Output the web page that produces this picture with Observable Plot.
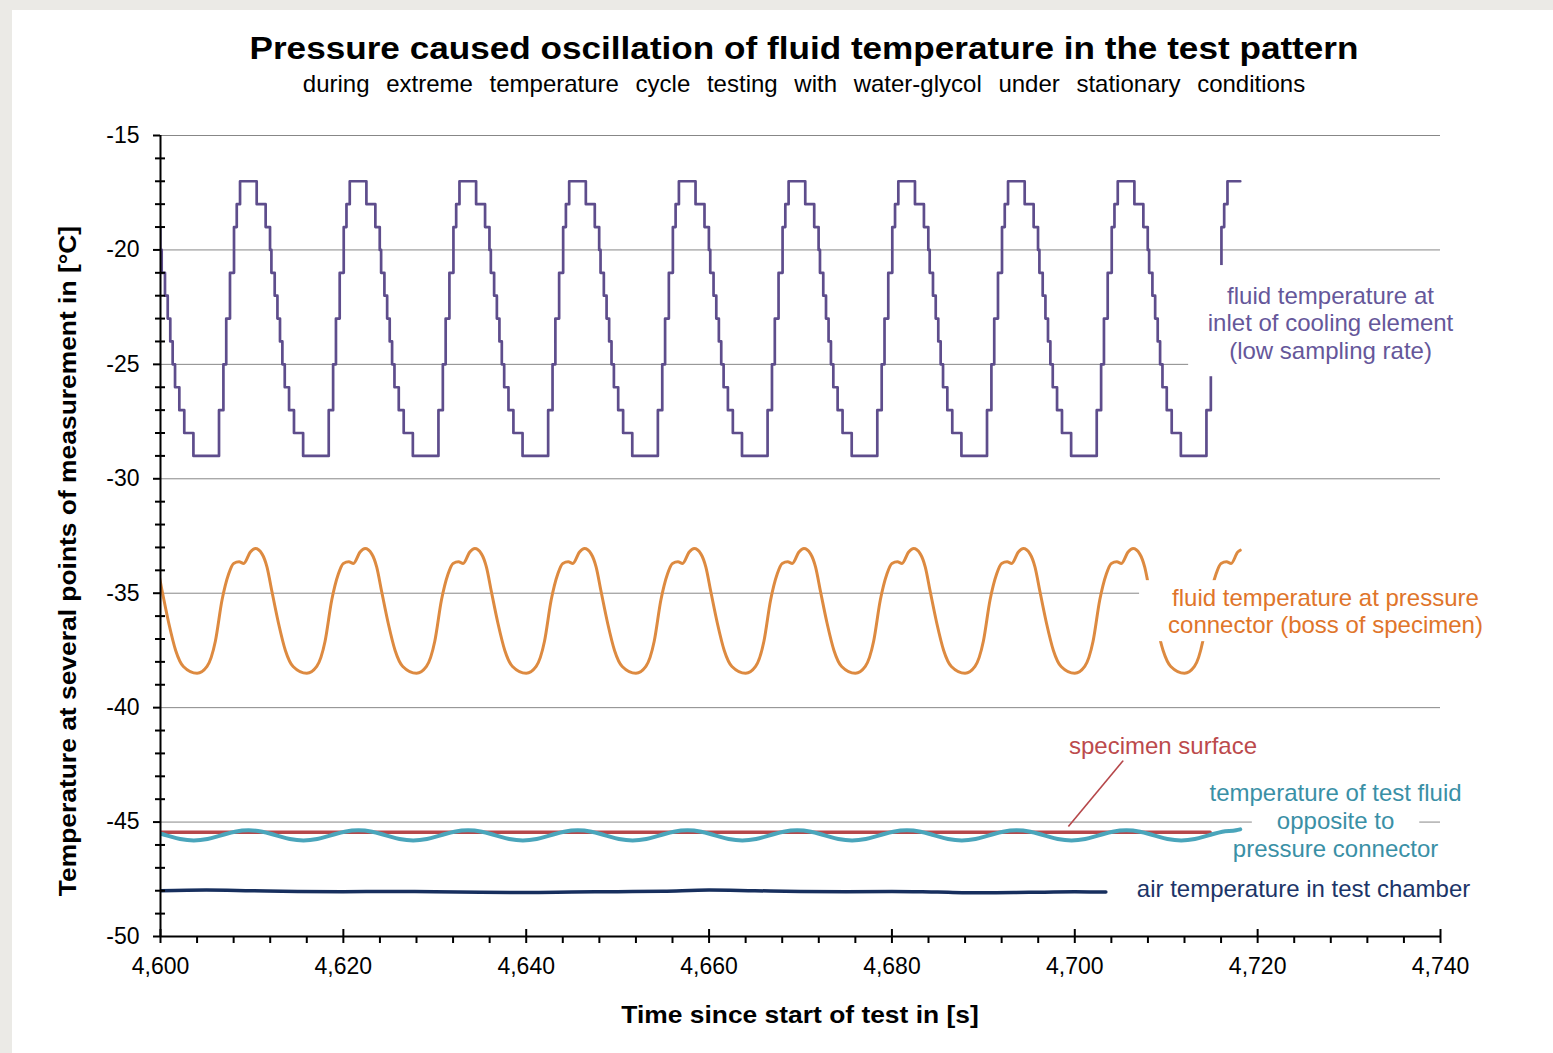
<!DOCTYPE html>
<html><head><meta charset="utf-8">
<script src="https://cdn.jsdelivr.net/npm/d3@7"></script>
<script src="https://cdn.jsdelivr.net/npm/@observablehq/plot@0.6"></script>
<style>
html,body{margin:0;padding:0;background:#ebeae6;}
body{width:1553px;height:1053px;position:relative;overflow:hidden;font-family:"Liberation Sans",Arial,sans-serif;}
#panel{position:absolute;left:12px;top:10px;right:0;bottom:0;background:#fff;}
#chart{position:absolute;left:12px;top:100px;}
.t{position:absolute;white-space:nowrap;color:#000;}
#title{left:804px;top:31px;transform:translateX(-50%) scaleX(1.098);font-size:32px;font-weight:bold;line-height:34px;}
#subtitle{left:804px;top:71px;transform:translateX(-50%);font-size:24px;line-height:26px;word-spacing:10px;}
#xtitle{left:800px;top:1002px;transform:translateX(-50%) scaleX(1.1);font-size:24px;font-weight:bold;line-height:26px;}
#ytitle{left:68px;top:561px;transform:translate(-50%,-50%) rotate(-90deg) scaleX(1.1);font-size:24px;font-weight:bold;line-height:26px;}
</style></head>
<body>
<div id="panel"></div>
<div id="chart"></div>
<div class="t" id="title">Pressure caused oscillation of fluid temperature in the test pattern</div>
<div class="t" id="subtitle">during extreme temperature cycle testing with water-glycol under stationary conditions</div>
<div class="t" id="xtitle">Time since start of test in [s]</div>
<div class="t" id="ytitle">Temperature at several points of measurement in [°C]</div>
<script>
// ---- axis ticks ----
const xMajor = [4600, 4620, 4640, 4660, 4680, 4700, 4720, 4740];
const xMinor = d3.range(4600, 4741, 4).filter(d => !xMajor.includes(d));
const yMajor = [-50, -45, -40, -35, -30, -25, -20, -15];
const yMinor = d3.range(-50, -14, 1).filter(d => !yMajor.includes(d));

// ---- fluid temperature at inlet of cooling element (quantized, step) ----
const inletCycleStart = [4591.6, 4603.6, 4615.6, 4627.6, 4639.6, 4651.6, 4663.6, 4675.6, 4687.6, 4699.6, 4711.6];
const inletStepOffset = [0, 2.8, 3.28, 3.59, 4.0, 4.44, 4.74, 5.1, 6.92, 7.9, 8.38, 8.53, 8.89, 9.19, 9.47, 9.73, 9.99, 10.46, 11.0];
const inletStepLevel  = [-29, -27, -25, -23, -21, -19, -18, -17, -18, -19, -20, -21, -22, -23, -24, -25, -26, -27, -28];
const inletEnd = [4718.1, -17];

// ---- fluid temperature at pressure connector ----
const connCycleMin = [4592, 4604, 4616, 4628, 4640, 4652, 4664, 4676, 4688, 4700, 4712];
const connOffset = [0, 1.09, 2.0, 2.73, 3.46, 4.0, 4.6, 5.1, 5.83, 6.38, 7.1, 7.65, 8.2, 8.9, 9.66, 10.5];
const connTemp   = [-38.5, -38.2, -37.1, -35.3, -34.15, -33.7, -33.63, -33.7, -33.2, -33.05, -33.28, -33.86, -34.95, -36.3, -37.5, -38.2];
const connEnd = [4718.1, -33.12];

// ---- temperature of test fluid opposite to pressure connector ----
const oppCycleMin = [4591.64, 4603.64, 4615.64, 4627.64, 4639.64, 4651.64, 4663.64, 4675.64, 4687.64, 4699.64, 4711.64];
const oppOffset = [0, 1.5, 3, 4.5, 6, 7.5, 9, 10.5];
const oppTemp   = [-45.80, -45.74, -45.58, -45.42, -45.36, -45.42, -45.58, -45.74];
const oppEnd = [4718.1, -45.32];

// ---- specimen surface ----
const surfTime = [4600, 4620, 4640, 4660, 4680, 4700, 4714.8];
const surfTemp = [-45.44, -45.44, -45.44, -45.44, -45.44, -45.44, -45.44];

// ---- air temperature in test chamber ----
const airTime = [4600, 4605, 4610, 4615, 4620, 4625, 4630, 4635, 4640, 4645, 4650, 4655, 4660, 4665, 4670, 4675, 4680, 4685, 4690, 4695, 4700, 4703.4];
const airTemp = [-48.00, -47.97, -48.00, -48.03, -48.04, -48.03, -48.04, -48.07, -48.08, -48.06, -48.04, -48.02, -47.97, -48.00, -48.03, -48.04, -48.03, -48.06, -48.09, -48.07, -48.05, -48.06];

// ---- labels ----
const labelLines = ["fluid temperature at", "inlet of cooling element", "(low sampling rate)",
  "fluid temperature at pressure", "connector (boss of specimen)",
  "specimen surface",
  "temperature of test fluid", "opposite to", "pressure connector",
  "air temperature in test chamber"];
const labelT = [4727.97, 4727.97, 4727.97, 4727.42, 4727.42, 4709.65, 4728.52, 4728.52, 4728.52, 4725.02];
const labelV = [-22.03, -23.21, -24.44, -35.23, -36.41, -41.70, -43.75, -44.98, -46.20, -47.95];
const labelSeries = ["inlet","inlet","inlet","conn","conn","surf","opp","opp","opp","air"];
const leaderT = [4699.3, 4705.3];
const leaderV = [-45.19, -42.31];

// ---- styles ----
const lineColor = {inlet: "#5e4d8c", conn: "#dd8a40", surf: "#b6474a", opp: "#4aa5bb", air: "#172f5e"};
const textColor = {inlet: "#65579a", conn: "#e0752a", surf: "#bc4a4c", opp: "#3a90a6", air: "#1c3568"};
// white box padding per label line: [horizontal, top, bottom]
const labelPad = [[41, 17, 4], [41, 4, 4], [41, 4, 12], [33, 4, 4], [33, 4, 3], [10, 1, 1], [10, 4, 2], [25, 2, 2], [5, 0, 4], [10, 3, 3]];

// ---- build tables ----
function cycles(starts, offs, vals, end) {
  const out = [];
  for (const s of starts) offs.forEach((o, i) => { if (s + o <= end[0]) out.push({t: s + o, v: vals[i]}); });
  out.push({t: end[0], v: end[1]});
  return out;
}
const inlet = cycles(inletCycleStart, inletStepOffset, inletStepLevel, inletEnd);
const conn = cycles(connCycleMin, connOffset, connTemp, connEnd);
const opp = cycles(oppCycleMin, oppOffset, oppTemp, oppEnd);
const surf = surfTime.map((t, i) => ({t, v: surfTemp[i]}));
const air = airTime.map((t, i) => ({t, v: airTemp[i]}));
const labels = labelLines.map((s, i) => ({s, t: labelT[i], v: labelV[i], k: labelSeries[i]}));

const plot = Plot.plot({
  width: 1541, height: 953,
  marginLeft: 148, marginRight: 113, marginTop: 35, marginBottom: 117,
  style: {background: "transparent", fontFamily: "Liberation Sans, Arial, sans-serif", fontSize: "23px", color: "#000", overflow: "visible"},
  x: {domain: [4600, 4740], axis: null},
  y: {domain: [-50, -15], axis: null},
  marks: [
    Plot.ruleY(yMajor.filter(d => d > -50), {stroke: "#878787", strokeWidth: 1}),
    Plot.line(inlet, {x: "t", y: "v", curve: "step-after", stroke: lineColor.inlet, strokeWidth: 2.7, clip: true}),
    Plot.line(conn, {x: "t", y: "v", curve: "monotone-x", stroke: lineColor.conn, strokeWidth: 3, clip: true}),
    Plot.line(surf, {x: "t", y: "v", stroke: lineColor.surf, strokeWidth: 3.5, clip: true}),
    Plot.line(opp, {x: "t", y: "v", curve: "monotone-x", stroke: lineColor.opp, strokeWidth: 4, clip: true}),
    Plot.line(air, {x: "t", y: "v", curve: "monotone-x", stroke: lineColor.air, strokeWidth: 3.5, clip: true}),
    Plot.link([0], {x1: () => leaderT[0], y1: () => leaderV[0], x2: () => leaderT[1], y2: () => leaderV[1], stroke: lineColor.surf, strokeWidth: 1.6}),
    Plot.text(labels, {x: "t", y: "v", text: "s", fill: d => textColor[d.k], fontSize: 24, textAnchor: "middle"}),
    Plot.ruleX([4600], {stroke: "#000", strokeWidth: 2}),
    Plot.ruleY([-50], {stroke: "#000", strokeWidth: 2}),
    Plot.axisY(yMajor, {tickSize: 7, tickPadding: 14, tickFormat: d => String(d), stroke: "#000", strokeWidth: 2, fill: "#000", label: null}),
    Plot.axisY(yMinor, {tickSize: 10, dx: 5, tickFormat: () => "", stroke: "#000", strokeWidth: 2, label: null}),
    Plot.axisX(xMinor, {tickSize: 7, tickFormat: () => "", stroke: "#000", strokeWidth: 2, label: null}),
    Plot.axisX(xMajor, {tickSize: 14, dy: -7, tickFormat: () => "", stroke: "#000", strokeWidth: 2, label: null}),
    Plot.axisX(xMajor, {tickSize: 0, tickPadding: 21, tickFormat: d3.format(","), fill: "#000", label: null})
  ]
});
document.getElementById("chart").append(plot);

// white boxes behind the label lines (like the original text boxes)
const svg = plot.tagName.toLowerCase() === "svg" ? plot : plot.querySelector("svg");
const sRect = svg.getBoundingClientRect();
const textGroup = svg.querySelector('g[aria-label="text"]');
const ns = "http://www.w3.org/2000/svg";
const bg = document.createElementNS(ns, "g");
textGroup.querySelectorAll("text").forEach((el, i) => {
  const r = el.getBoundingClientRect();
  const p = labelPad[i];
  const rect = document.createElementNS(ns, "rect");
  rect.setAttribute("x", r.left - sRect.left - p[0]);
  rect.setAttribute("y", r.top - sRect.top - p[1]);
  rect.setAttribute("width", r.width + 2 * p[0]);
  rect.setAttribute("height", r.height + p[1] + p[2]);
  rect.setAttribute("fill", "white");
  bg.append(rect);
});
svg.insertBefore(bg, textGroup);
</script>
</body></html>
